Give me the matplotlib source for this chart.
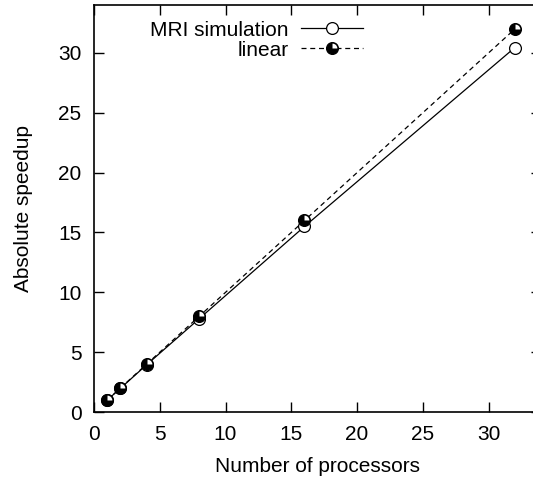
import matplotlib
matplotlib.use('Agg')
import matplotlib.pyplot as plt
from matplotlib.path import Path
from matplotlib.legend_handler import HandlerTuple

processors = [1, 2, 4, 8, 16, 32]
mri_speedup = [1.0, 1.97, 3.95, 7.8, 15.5, 30.45]
linear_speedup = [1, 2, 4, 8, 16, 32]

plt.rcParams['font.family'] = ['Liberation Sans', 'DejaVu Sans']
plt.rcParams['font.size'] = 15

fig = plt.figure(figsize=(5.33, 4.78), dpi=100)
ax = fig.add_axes([0.1764, 0.138, 0.839, 0.8515])

mri, = ax.plot(processors, mri_speedup, color='black', linewidth=0.9,
               marker='o', markersize=8.5, markerfacecolor='white',
               markeredgecolor='black', markeredgewidth=0.9)
lin, = ax.plot(processors, linear_speedup, color='black', linewidth=0.9,
               linestyle=(0, (4, 3)), marker='o', markersize=8.5,
               markerfacecolor='black', markeredgecolor='black',
               markeredgewidth=0.9)
# white quarter inside the linear markers
quarter = Path.wedge(0, 90)
spot, = ax.plot(processors, linear_speedup, linestyle='none',
                marker=quarter, markersize=7, markerfacecolor='white',
                markeredgewidth=0)

ax.set_xlim(0, 34)
ax.set_ylim(0, 34)
ax.set_xticks(range(0, 35, 5))
ax.set_yticks(range(0, 35, 5))
ax.tick_params(direction='in', top=True, right=True, length=7, width=1,
               pad=9)
for s in ax.spines.values():
    s.set_linewidth(1.2)

ax.set_xlabel('Number of processors', labelpad=10)
ax.set_ylabel('Absolute speedup', labelpad=18)

leg = ax.legend([mri, (lin, spot)], ['MRI simulation', 'linear'],
                handler_map={tuple: HandlerTuple(ndivide=1, pad=0)},
                loc='upper left', bbox_to_anchor=(0.09, 1.0), frameon=False,
                markerfirst=False, handlelength=3.0, borderpad=0.25,
                labelspacing=0.05, handletextpad=0.6)
for t in leg.get_texts():
    t.set_ha('right')

fig.savefig('out.png', dpi=100)
